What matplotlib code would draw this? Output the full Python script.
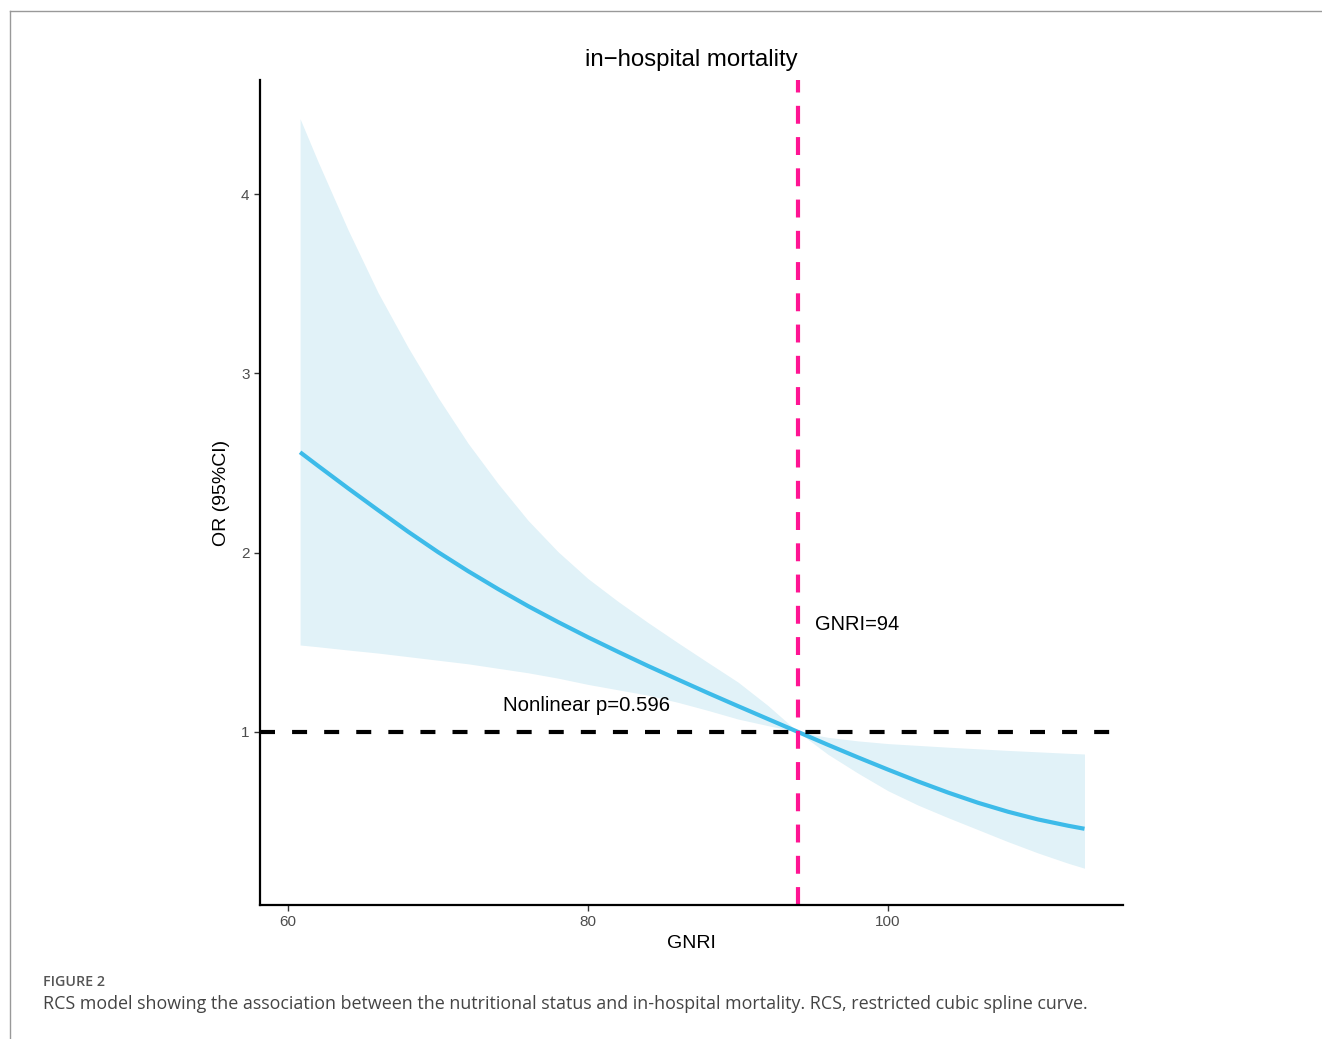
import matplotlib
matplotlib.use("Agg")
import matplotlib.pyplot as plt
from matplotlib.lines import Line2D

plt.rcParams["font.family"] = ["Liberation Sans", "DejaVu Sans"]

# RCS estimates (GNRI vs OR with 95% CI)
gnri = [60.8, 62, 64, 66, 68, 70, 72, 74, 76, 78, 80, 82, 84, 86, 88, 90, 92, 94,
        96, 98, 100, 102, 104, 106, 108, 110, 112, 113.1]
or_est = [2.56, 2.484, 2.359, 2.237, 2.117, 2.003, 1.897, 1.797, 1.702, 1.613, 1.528,
          1.447, 1.368, 1.292, 1.217, 1.144, 1.072, 1.0,
          0.928, 0.858, 0.79, 0.724, 0.662, 0.605, 0.555, 0.512, 0.477, 0.46]
or_upper = [4.42, 4.18, 3.80, 3.45, 3.145, 2.865, 2.61, 2.385, 2.18, 2.005, 1.855,
            1.728, 1.61, 1.497, 1.387, 1.278, 1.147, 1.0,
            0.97, 0.95, 0.935, 0.925, 0.915, 0.906, 0.897, 0.889, 0.881, 0.877]
or_lower = [1.485, 1.475, 1.457, 1.44, 1.42, 1.40, 1.38, 1.355, 1.33, 1.30, 1.265,
            1.235, 1.205, 1.165, 1.12, 1.072, 1.035, 1.0,
            0.875, 0.77, 0.672, 0.592, 0.522, 0.455, 0.388, 0.325, 0.268, 0.24]

cutoff = 94
x_ticks = [60, 80, 100]
y_ticks = [1, 2, 3, 4]

fig = plt.figure(figsize=(13.22, 10.39), dpi=100)
fig.patch.set_facecolor("white")
ax = fig.add_axes([0.1967, 0.129, 0.6528, 0.794])

ax.fill_between(gnri, or_lower, or_upper, color="#e1f2f8", linewidth=0)
ax.plot(gnri, or_est, color="#3dbbe9", linewidth=3, solid_capstyle="butt",
        solid_joinstyle="round")

ax.axhline(1, color="black", linewidth=3, dashes=(3.6, 4.1))
ax.axvline(cutoff, color="#ff1493", linewidth=3, dashes=(4.3, 3.2))

ax.text(95.1, 1.6, "GNRI=94", fontsize=14.4, va="center", ha="left")
ax.text(74.3, 1.15, "Nonlinear p=0.596", fontsize=14.7, va="center", ha="left")

ax.set_xlim(58.13, 115.67)
ax.set_ylim(0.035, 4.636)
ax.set_xticks(x_ticks)
ax.set_yticks(y_ticks)
ax.tick_params(axis="both", labelsize=11, labelcolor="#4d4d4d", color="#333333",
               length=4, width=1)
for side in ["top", "right"]:
    ax.spines[side].set_visible(False)
for side in ["left", "bottom"]:
    ax.spines[side].set_linewidth(1.6)
    ax.spines[side].set_color("black")

ax.set_xlabel("GNRI", fontsize=14, labelpad=4)
ax.set_ylabel("OR (95%CI)", fontsize=14, labelpad=8)
ax.set_title("in\u2212hospital mortality", fontsize=17.3, pad=10)

# page border and caption
fig.add_artist(Line2D([10 / 1322, 1.0], [1 - 11 / 1039] * 2, color="#999999", linewidth=1))
fig.add_artist(Line2D([10 / 1322] * 2, [0, 1 - 11 / 1039], color="#999999", linewidth=1))
fig.text(43 / 1322, 1 - 982 / 1039, "FIGURE 2", fontsize=10.3, color="#555555",
         family=["Open Sans", "DejaVu Sans"], fontweight="semibold", va="center")
fig.text(43 / 1322, 1 - 1004 / 1039,
         "RCS model showing the association between the nutritional status and "
         "in-hospital mortality. RCS, restricted cubic spline curve.",
         fontsize=12.9, color="#444444", family=["Open Sans", "DejaVu Sans"], va="center")

fig.savefig("out.png", dpi=100)
